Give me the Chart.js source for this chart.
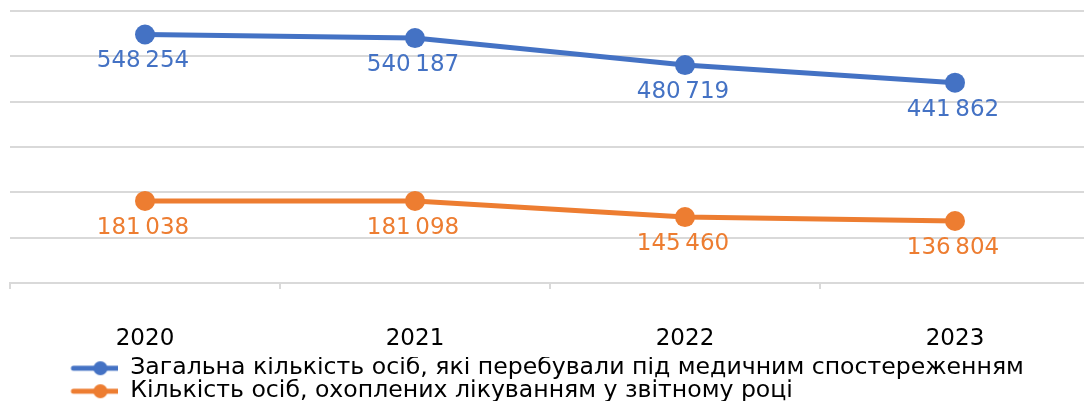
<!DOCTYPE html>
<html>
<head>
<meta charset="utf-8">
<script src="https://cdn.jsdelivr.net/npm/chart.js@4.4.1/dist/chart.umd.min.js"></script>
<style>
  html, body { margin: 0; padding: 0; overflow: hidden; background: #fff; }
  #wrap { position: relative; width: 1100px; height: 413px; }
</style>
</head>
<body>
<div id="wrap"><canvas id="chart"></canvas></div>
<script>
'use strict';

// data
const years = ['2020', '2021', '2022', '2023'];
const observedTotal = [548254, 540187, 480719, 441862];
const treatedInYear = [181038, 181098, 145460, 136804];
const seriesNames = [
  'Загальна кількість осіб, які перебували під медичним спостереженням',
  'Кількість осіб, охоплених лікуванням у звітному році'
];
const yTicks = [0, 100000, 200000, 300000, 400000, 500000, 600000];

const blue = '#4472C4';
const orange = '#ED7D31';
const gridColor = '#d9d9d9';
const fontFamily = '"DejaVu Sans", Arial, sans-serif';

// 548254 -> "548 254" (thin space like in Excel)
function fmt(n) {
  return String(n).replace(/\B(?=(\d{3})+(?!\d))/g, '\u2009');
}

// legend marker: line with a dot in the middle (blank space on the left for the indent)
function legendMarker(color) {
  let c = document.createElement('canvas');
  c.width = 109;
  c.height = 20;
  let ctx = c.getContext('2d');
  ctx.strokeStyle = color;
  ctx.lineWidth = 5;
  ctx.lineCap = 'round';
  ctx.beginPath();
  ctx.moveTo(64, 10);
  ctx.lineTo(114, 10);
  ctx.stroke();
  ctx.fillStyle = color;
  ctx.beginPath();
  ctx.arc(91, 10, 7, 0, Math.PI * 2);
  ctx.fill();
  return c;
}
const markers = [legendMarker(blue), legendMarker(orange)];

// value labels under every point
const valueLabels = {
  id: 'valueLabels',
  afterDatasetsDraw(chart) {
    let ctx = chart.ctx;
    ctx.save();
    ctx.font = '23px ' + fontFamily;
    ctx.textAlign = 'center';
    ctx.textBaseline = 'middle';
    chart.data.datasets.forEach((ds, i) => {
      chart.getDatasetMeta(i).data.forEach((pt, j) => {
        ctx.fillStyle = ds.borderColor;
        ctx.fillText(fmt(ds.data[j]), pt.x - 2, pt.y + 27);
      });
    });
    ctx.restore();
  }
};

const data = {
  labels: years,
  datasets: [
    {
      label: seriesNames[0],
      data: observedTotal,
      borderColor: blue,
      backgroundColor: blue,
      borderWidth: 5,
      pointRadius: 10,
      pointHoverRadius: 10,
      pointBorderWidth: 0,
      tension: 0
    },
    {
      label: seriesNames[1],
      data: treatedInYear,
      borderColor: orange,
      backgroundColor: orange,
      borderWidth: 5,
      pointRadius: 10,
      pointHoverRadius: 10,
      pointBorderWidth: 0,
      tension: 0
    }
  ]
};

const config = {
  type: 'line',
  data: data,
  options: {
    responsive: true,
    maintainAspectRatio: false,
    animation: false,
    layout: { padding: { top: 11, left: 10, right: 6, bottom: 0 } },
    scales: {
      x: {
        offset: true,
        grid: {
          offset: true,
          drawOnChartArea: false,
          drawTicks: true,
          tickLength: 6,
          color: gridColor,
          lineWidth: 2
        },
        border: { color: gridColor, width: 2 },
        ticks: {
          color: '#000',
          padding: 36,
          font: { family: fontFamily, size: 23 }
        },
        afterFit(scale) { scale.height = 74; }
      },
      y: {
        min: 0,
        max: 600000,
        afterBuildTicks(scale) {
          scale.ticks = yTicks.map(v => ({ value: v }));
        },
        grid: { color: gridColor, lineWidth: 2, drawTicks: false },
        border: { display: false },
        ticks: { display: false }
      }
    },
    plugins: {
      tooltip: { enabled: false },
      legend: {
        position: 'bottom',
        align: 'start',
        labels: {
          usePointStyle: true,
          pointStyleWidth: 109,
          padding: -0.6,
          color: '#000',
          font: { family: fontFamily, size: 23.6 },
          generateLabels(chart) {
            let items = Chart.defaults.plugins.legend.labels.generateLabels(chart);
            items.forEach((it, i) => { it.pointStyle = markers[i]; });
            return items;
          }
        }
      }
    }
  },
  plugins: [valueLabels]
};

const myChart = new Chart(document.getElementById('chart'), config);
</script>
</body>
</html>
